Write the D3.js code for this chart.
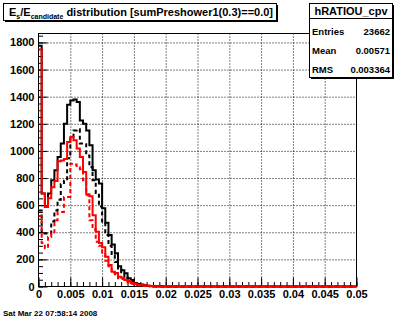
<!DOCTYPE html>
<html>
<head>
<meta charset="utf-8">
<script src="https://cdn.jsdelivr.net/npm/d3@7/dist/d3.min.js"></script>
<style>
  html, body { margin: 0; padding: 0; background: #fff; }
  svg { display: block; font-family: "Liberation Sans", Arial, Helvetica, sans-serif; font-weight: bold; }
</style>
</head>
<body>
<svg id="canvas" width="396" height="322"></svg>
<script>
// E_s/E_candidate, 100 bins over [0, 0.05] (bin width 0.0005)
const blackSolid = [
  1775, 686, 587, 686, 784, 857, 955, 1054, 1201, 1340,
  1372, 1380, 1360, 1225, 1200, 1150, 1041, 857, 790, 760,
  578, 470, 380, 310, 246, 150, 120, 98, 60, 48,
  25, 18, 15, 10, 5, 3, 2, 1, 1, 0,
  0, 0, 0, 0, 0, 0, 0, 0, 0, 0,
  0, 0, 0, 0, 0, 0, 0, 0, 0, 0,
  0, 0, 0, 0, 0, 0, 0, 0, 0, 0,
  0, 0, 0, 0, 0, 0, 0, 0, 0, 0,
  0, 0, 0, 0, 0, 0, 0, 0, 0, 0,
  0, 0, 0, 0, 0, 0, 0, 0, 0, 0
];
const blackDashed = [
  560, 390, 390, 392, 480, 560, 640, 754, 780, 945,
  1100, 1150, 1159, 1054, 1050, 967, 881, 784, 690, 590,
  480, 380, 300, 230, 180, 125, 95, 70, 50, 35,
  22, 14, 10, 6, 3, 2, 0, 0, 0, 0,
  0, 0, 0, 0, 0, 0, 0, 0, 0, 0,
  0, 0, 0, 0, 0, 0, 0, 0, 0, 0,
  0, 0, 0, 0, 0, 0, 0, 0, 0, 0,
  0, 0, 0, 0, 0, 0, 0, 0, 0, 0,
  0, 0, 0, 0, 0, 0, 0, 0, 0, 0,
  0, 0, 0, 0, 0, 0, 0, 0, 0, 0
];
const redSolid = [
  1748, 686, 587, 650, 732, 779, 923, 930, 940, 1066,
  1102, 1078, 1017, 955, 845, 680, 665, 526, 403, 320,
  290, 219, 158, 109, 100, 72, 65, 48, 40, 26,
  20, 11, 10, 8, 5, 3, 2, 0, 0, 0,
  0, 0, 0, 0, 0, 0, 0, 0, 0, 0,
  0, 0, 0, 0, 0, 0, 0, 0, 0, 0,
  0, 0, 0, 0, 0, 0, 0, 0, 0, 0,
  0, 0, 0, 0, 0, 0, 0, 0, 0, 0,
  0, 0, 0, 0, 0, 0, 0, 0, 0, 0,
  0, 0, 0, 0, 0, 0, 0, 0, 0, 0
];
const redDashed = [
  520, 320, 283, 366, 392, 489, 550, 550, 661, 661,
  906, 900, 880, 865, 784, 673, 489, 420, 330, 300,
  240, 190, 150, 100, 90, 60, 55, 40, 30, 20,
  15, 10, 8, 5, 3, 1, 0, 0, 0, 0,
  0, 0, 0, 0, 0, 0, 0, 0, 0, 0,
  0, 0, 0, 0, 0, 0, 0, 0, 0, 0,
  0, 0, 0, 0, 0, 0, 0, 0, 0, 0,
  0, 0, 0, 0, 0, 0, 0, 0, 0, 0,
  0, 0, 0, 0, 0, 0, 0, 0, 0, 0,
  0, 0, 0, 0, 0, 0, 0, 0, 0, 0
];

const xTickValues = [0, 0.005, 0.01, 0.015, 0.02, 0.025, 0.03, 0.035, 0.04, 0.045, 0.05];
const yTickValues = [0, 200, 400, 600, 800, 1000, 1200, 1400, 1600, 1800];
const xMinorStep = 0.001;
const yMinorStep = 50;
const binWidth = 0.0005;
const xDomain = [0, 0.05];
const yDomain = [0, 1866];

const histTitle = "hRATIOU_cpv";
const statLabels = ["Entries", "Mean", "RMS"];
const statValues = ["23662", "0.00571", "0.003364"];
const dateStamp = "Sat Mar 22 07:58:14 2008";

const svg = d3.select("#canvas");
const frame = { left: 38.5, right: 356.5, top: 33.5, bottom: 286.5 };

const x = d3.scaleLinear().domain(xDomain).range([frame.left, frame.right]);
const y = d3.scaleLinear().domain(yDomain).range([frame.bottom, frame.top]);
const frameH = frame.bottom - frame.top;
const frameW = frame.right - frame.left;

// frame background
svg.append("rect")
  .attr("x", frame.left).attr("y", frame.top)
  .attr("width", frameW).attr("height", frameH)
  .attr("fill", "#fff");

// dotted grid at the inner major ticks
const gridX = svg.append("g").attr("transform", `translate(0,${frame.bottom})`)
  .call(d3.axisBottom(x).tickValues(xTickValues.slice(1, -1)).tickSize(-frameH).tickFormat(""));
const gridY = svg.append("g").attr("transform", `translate(${frame.left},0)`)
  .call(d3.axisLeft(y).tickValues(yTickValues.slice(1)).tickSize(-frameW).tickFormat(""));
[gridX, gridY].forEach(g => {
  g.select(".domain").remove();
  g.selectAll("line").attr("stroke", "#000").attr("stroke-width", 1).attr("stroke-dasharray", "1,2");
});

// minor ticks
const xMinor = d3.range(0, Math.round(xDomain[1] / xMinorStep) + 1).map(i => i * xMinorStep);
const yMinor = d3.range(0, Math.floor(yDomain[1] / yMinorStep) + 1).map(i => i * yMinorStep);
const minX = svg.append("g").attr("transform", `translate(0,${frame.bottom})`)
  .call(d3.axisBottom(x).tickValues(xMinor).tickSize(-4.5).tickFormat(""));
const minY = svg.append("g").attr("transform", `translate(${frame.left},0)`)
  .call(d3.axisLeft(y).tickValues(yMinor).tickSize(-4.5).tickFormat(""));
[minX, minY].forEach(g => {
  g.select(".domain").remove();
  g.selectAll("line").attr("stroke", "#000").attr("stroke-width", 1);
});

// major ticks and labels
const fmt = d3.format("~g");
const axX = svg.append("g").attr("transform", `translate(0,${frame.bottom})`)
  .call(d3.axisBottom(x).tickValues(xTickValues).tickSize(-9).tickPadding(4).tickFormat(fmt));
const axY = svg.append("g").attr("transform", `translate(${frame.left},0)`)
  .call(d3.axisLeft(y).tickValues(yTickValues).tickSize(-9).tickPadding(4).tickFormat(fmt));
[axX, axY].forEach(g => {
  g.select(".domain").remove();
  g.selectAll("line").attr("stroke", "#000").attr("stroke-width", 1);
  g.selectAll("text").attr("fill", "#000").attr("font-size", 11)
    .attr("font-family", '"Liberation Sans", Arial, sans-serif').attr("font-weight", "bold");
});

// frame border
svg.append("rect")
  .attr("x", frame.left).attr("y", frame.top)
  .attr("width", frameW).attr("height", frameH)
  .attr("fill", "none").attr("stroke", "#000").attr("stroke-width", 1);

// histograms drawn as step outlines
function stepPoints(values) {
  const pts = [];
  values.forEach((v, i) => {
    pts.push([x(i * binWidth), y(v)]);
    pts.push([x((i + 1) * binWidth), y(v)]);
  });
  return pts;
}
const line = d3.line();
const series = [
  { values: blackSolid, color: "#000", dash: null },
  { values: blackDashed, color: "#000", dash: "4,3" },
  { values: redSolid, color: "#ff0000", dash: null },
  { values: redDashed, color: "#ff0000", dash: "4,3" }
];
series.forEach(s => {
  svg.append("path")
    .attr("d", line(stepPoints(s.values)))
    .attr("fill", "none")
    .attr("stroke", s.color)
    .attr("stroke-width", 2)
    .attr("stroke-dasharray", s.dash);
});

// boxes with a drop shadow on the right and bottom
function paveBox(x0, y0, w, h) {
  svg.append("rect").attr("x", x0 + 1.5).attr("y", y0 + 1.5).attr("width", w).attr("height", h).attr("fill", "#000");
  svg.append("rect").attr("x", x0).attr("y", y0).attr("width", w).attr("height", h)
    .attr("fill", "#fff").attr("stroke", "#000").attr("stroke-width", 1);
}

// title
paveBox(3.5, 3.5, 273, 17);
const title = svg.append("text").attr("x", 9).attr("y", 16).attr("font-size", 11).attr("fill", "#000");
title.append("tspan").text("E");
title.append("tspan").attr("font-size", 7).attr("dy", 2.5).text("s");
title.append("tspan").attr("dy", -2.5).text("/E");
title.append("tspan").attr("font-size", 7).attr("dy", 2.5).text("candidate");
title.append("tspan").attr("dy", -2.5).text(" distribution [sumPreshower1(0.3)==0.0]");

// statistics box
paveBox(309.5, 3.5, 83, 74);
svg.append("line").attr("x1", 309.5).attr("x2", 392.5).attr("y1", 18.5).attr("y2", 18.5)
  .attr("stroke", "#000").attr("stroke-width", 1);
svg.append("text").attr("x", 351).attr("y", 15).attr("text-anchor", "middle")
  .attr("font-size", 11).attr("fill", "#000").text(histTitle);
const rowY = [35, 54, 73];
statLabels.forEach((lab, i) => {
  svg.append("text").attr("x", 312).attr("y", rowY[i]).attr("font-size", 9.5).attr("fill", "#000").text(lab);
  svg.append("text").attr("x", 390).attr("y", rowY[i]).attr("text-anchor", "end")
    .attr("font-size", 9.5).attr("fill", "#000").text(statValues[i]);
});

// date stamp
svg.append("text").attr("x", 3).attr("y", 316).attr("font-size", 8).attr("fill", "#000").text(dateStamp);
</script>
</body>
</html>
